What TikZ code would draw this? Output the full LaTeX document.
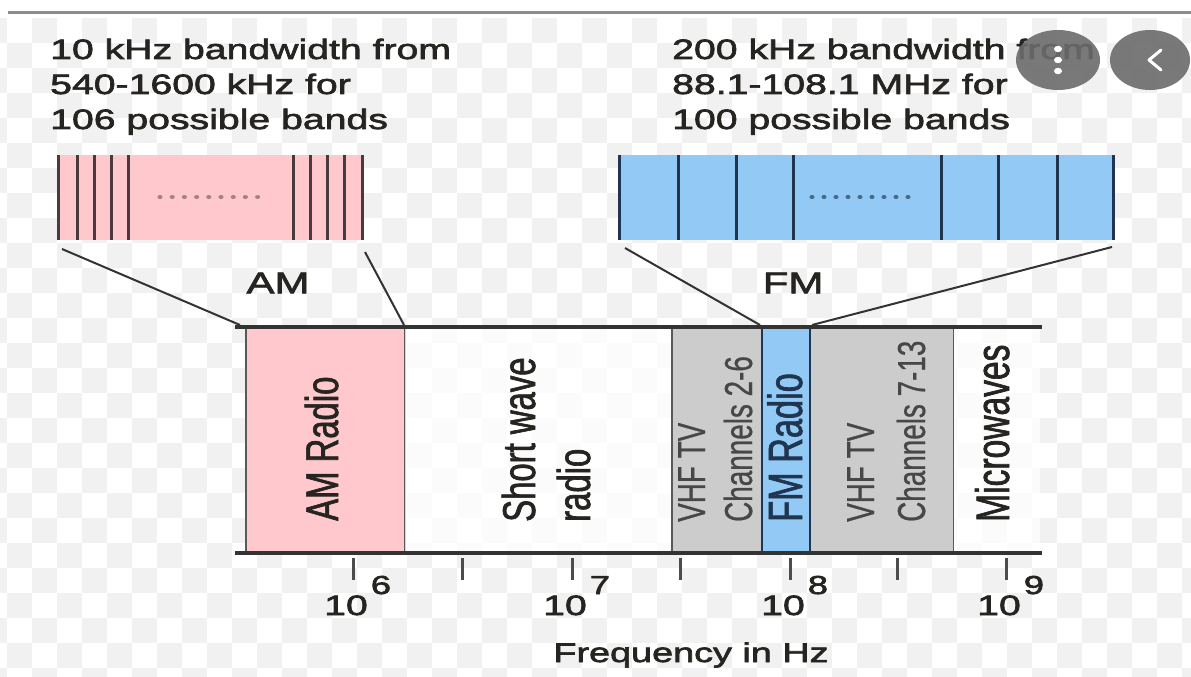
\documentclass[tikz,border=0pt]{standalone}
\usepackage{fontspec}
\setmainfont{Liberation Sans}
\newfontfamily\wfont[FakeStretch=1.4,FakeBold=2.4]{Liberation Sans}
\newfontfamily\nfont[FakeStretch=0.7143,FakeBold=1.4]{Liberation Sans}
\newfontfamily\nlight[FakeStretch=0.7143,FakeBold=0.6]{Liberation Sans}
\definecolor{ampink}{HTML}{FFC8CD}
\definecolor{fmblue}{HTML}{92C9F5}
\definecolor{vhfgray}{HTML}{CCCCCC}
\definecolor{chk}{HTML}{F1F1F1}
\definecolor{ink}{HTML}{262420}
\definecolor{amline}{HTML}{4A3A3C}
\definecolor{fmline}{HTML}{1F3550}
\newcommand\tpow[1]{10\hspace{3pt}\raisebox{21pt}{\fontsize{26}{26}\selectfont #1}}
\begin{document}
\begin{tikzpicture}[x=1pt,y=-1pt,
  toptext/.style={anchor=north west, inner sep=0pt, align=left, text=ink,
    font=\wfont\fontsize{28}{35}\selectfont},
  biglab/.style={inner sep=0pt, text=ink, font=\wfont\fontsize{30}{30}\selectfont},
  tlab/.style={anchor=base west, inner sep=0pt, text=ink, font=\wfont\fontsize{28}{28}\selectfont},
  vtext/.style={rotate=90, anchor=base west, inner sep=0pt, text=ink,
    font=\nfont\fontsize{46}{46}\selectfont},
  vsmall/.style={vtext, text=black!72, font=\nlight\fontsize{39}{39}\selectfont},
  band/.style={draw=black!65, line width=1.5pt},
  axisline/.style={draw=black!80, line width=4pt},
  zoomline/.style={draw=black!80, line width=2pt},
  tickmark/.style={draw=black!70, line width=3pt},
  amdiv/.style={draw=amline, line width=3pt},
  fmdiv/.style={draw=fmline, line width=3pt},
  btn/.style={fill=black!58, opacity=0.9}]
\useasboundingbox (0,0) rectangle (1191,677);
\fill[white] (0,0) rectangle (1191,677);
% checkerboard background
\foreach \i in {-1,...,47}{
  \foreach \j in {0,...,26}{
    \pgfmathtruncatemacro\p{mod(\i+\j+100,2)}
    \ifnum\p=1
      \fill[chk] ({7+25*\i},{18+25*\j}) rectangle ++(25,25);
    \fi
  }
}
\fill[white] (0,0) rectangle (1191,15);
\draw[black!45, line width=3pt] (8,13) -- (1191,13);

% header texts
\node[toptext] (amtxt) at (50,38.5) {10 kHz bandwidth from\\540-1600 kHz for\\106 possible bands};
\node[toptext] (fmtxt) at (672,38.5) {200 kHz bandwidth from\\88.1-108.1 MHz for\\100 possible bands};

% AM zoom box
\node[fill=ampink, inner sep=0pt, minimum width=305pt, minimum height=85pt] (ambox) at (210.5,197.5) {};
\foreach \xx in {58,77,94,111,128,293,310,327,344,362}{
  \draw[amdiv] (\xx,155) -- (\xx,240);
}
\foreach \k in {0,...,8}{
  \fill[amline!50!ampink] ({160+12.2*\k},197) ellipse [x radius=2.6pt, y radius=2pt];
}
% FM zoom box
\node[fill=fmblue, inner sep=0pt, minimum width=494pt, minimum height=85pt] (fmbox) at (866,197.5) {};
\foreach \xx in {619,678,736,793,941,998,1057,1113}{
  \draw[fmdiv] (\xx,155) -- (\xx,240);
}
\foreach \k in {0,...,8}{
  \fill[fmline!65!fmblue] ({812+12*\k},197) ellipse [x radius=2.6pt, y radius=2pt];
}

% band rectangles
\node[band, fill=ampink, inner sep=0pt, minimum width=159pt, minimum height=226pt] (amband) at (325.5,440) {};
\node[inner sep=0pt, fill=white, fill opacity=0.75, minimum width=267pt, minimum height=226pt] (swband) at (538.5,440) {};
\node[band, fill=vhfgray, inner sep=0pt, minimum width=90pt, minimum height=226pt] (vhfa) at (717,440) {};
\node[band, fill=vhfgray, inner sep=0pt, minimum width=143pt, minimum height=226pt] (vhfb) at (882,440) {};
\node[band, fill=fmblue, draw=fmline, inner sep=0pt, minimum width=48pt, minimum height=226pt] (fmband) at (786,440) {};
\node[inner sep=0pt, fill=white, fill opacity=0.75, minimum width=86pt, minimum height=224pt] (mwband) at (997,440) {};

% axis lines
\coordinate (tl) at (235,327);
\coordinate (tr) at (1042,327);
\coordinate (bl) at (235,553);
\coordinate (br) at (1042,553);
\draw[axisline] (tl) -- (tr);
\draw[axisline] (bl) -- (br);

% zoom connectors
\coordinate (amA) at (62,249);
\coordinate (amB) at (240,325);
\coordinate (amC) at (365,252);
\coordinate (amD) at (404,325);
\coordinate (fmA) at (625,248);
\coordinate (fmB) at (760,325);
\coordinate (fmC) at (1112,247);
\coordinate (fmD) at (812,325);
\draw[zoomline] (amA) -- (amB);
\draw[zoomline] (amC) -- (amD);
\draw[zoomline] (fmA) -- (fmB);
\draw[zoomline] (fmC) -- (fmD);

\node[biglab] (amlab) at (278,283) {AM};
\node[biglab] (fmlab) at (793,283) {FM};

% vertical band labels
\node[vtext] (t1) at (338,521) {AM Radio};
\node[vtext] (t2) at (535,522) {Short wave};
\node[vtext] (t3) at (590,522) {radio};
\node[vsmall] (t4) at (705,522) {VHF TV};
\node[vsmall] (t5) at (752,522) {Channels 2-6};
\node[vtext, text=fmline, font=\nfont\fontsize{48}{48}\selectfont] (t6) at (802,522) {FM Radio};
\node[vsmall] (t7) at (874,522) {VHF TV};
\node[vsmall] (t8) at (925,522) {Channels 7-13};
\node[vtext, font=\nfont\fontsize{47}{47}\selectfont] (t9) at (1009,522) {Microwaves};

% ticks
\foreach \xx in {353,462,572,680,790,897,1006}{
  \draw[tickmark] (\xx,558) -- (\xx,580);
}
\node[tlab] (p6) at (324,615) {\tpow{6}};
\node[tlab] (p7) at (543,615) {\tpow{7}};
\node[tlab] (p8) at (761,615) {\tpow{8}};
\node[tlab] (p9) at (977,615) {\tpow{9}};
\node[anchor=base, inner sep=0pt, text=ink, font=\wfont\fontsize{27}{27}\selectfont] (xlab) at (691,662) {Frequency in Hz};

% overlay buttons
\fill[btn] (1058,60) ellipse [x radius=42pt, y radius=30pt];
\fill[btn] (1150,60) ellipse [x radius=40pt, y radius=30pt];
\foreach \yy in {49,60,71}{
  \fill[white] (1058,\yy) ellipse [x radius=4pt, y radius=3.2pt];
}
\draw[white, line width=3pt, line cap=round, line join=round] (1161,50) -- (1149,60) -- (1161,70);
\end{tikzpicture}
\end{document}
